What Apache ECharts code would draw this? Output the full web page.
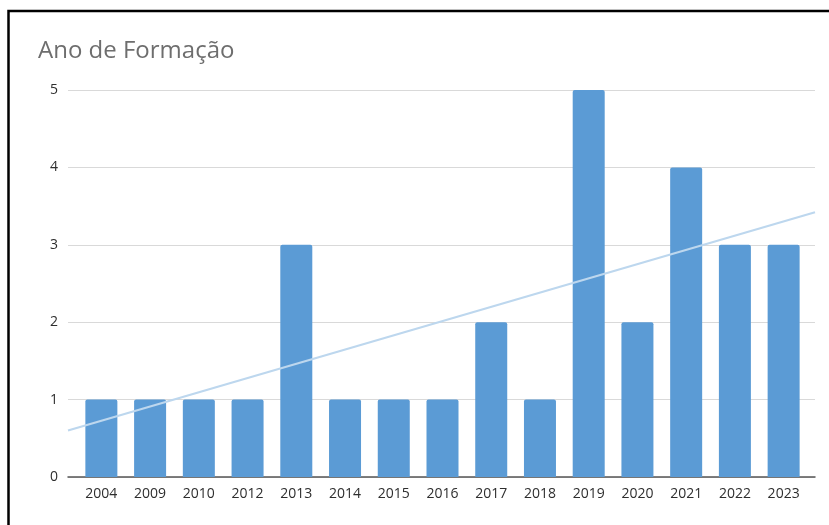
<!DOCTYPE html>
<html><head><meta charset="utf-8">
<script src="https://cdn.jsdelivr.net/npm/echarts@6/dist/echarts.min.js"></script>
<style>html,body{margin:0;padding:0;background:#fff}#c{width:829px;height:525px}</style>
</head><body><div id="c"></div>
<script>
const categories = ['2004','2009','2010','2012','2013','2014','2015','2016','2017','2018','2019','2020','2021','2022','2023'];
const counts = [1,1,1,1,3,1,1,1,2,1,5,2,4,3,3];
const yTicks = [0,1,2,3,4,5];
// trendline values read at the left and right edges of the plot
const trendEnds = [0.6, 3.42];

const chart = echarts.init(document.getElementById('c'));
const font = 'Open Sans, Noto Sans, sans-serif';
chart.setOption({
  animation: false,
  title: {text: 'Ano de Formação', left: 33, top: 34,
    textStyle: {fontFamily: font, fontSize: 24, fontWeight: 'normal', color: '#6e6e6e'}},
  graphic: [{type: 'rect', shape: {x: 8.5, y: 11, width: 900, height: 700},
    style: {fill: 'none', stroke: '#000', lineWidth: 2.5}, silent: true}],
  grid: [
    {left: 77, right: 21, top: 90, bottom: 48},
    {left: 68, right: 14, top: 90, bottom: 48}
  ],
  xAxis: [
    {type: 'category', gridIndex: 0, data: categories,
      axisLine: {show: false}, axisTick: {show: false},
      axisLabel: {fontFamily: font, fontSize: 14, color: '#2e2e2e', margin: 10}},
    {type: 'value', gridIndex: 1, min: 0, max: 1, show: true,
      axisLine: {show: true, onZero: false, lineStyle: {color: '#555', width: 1.5}},
      axisTick: {show: false}, axisLabel: {show: false}, splitLine: {show: false}}
  ],
  yAxis: [
    {type: 'value', gridIndex: 0, min: 0, max: 5, interval: 1, show: false},
    {type: 'value', gridIndex: 1, min: 0, max: 5, interval: 1,
      axisLine: {show: false}, axisTick: {show: false},
      axisLabel: {fontFamily: font, fontSize: 14, color: '#2e2e2e', margin: 10,
        formatter: v => yTicks.includes(v) ? String(v) : ''},
      splitLine: {lineStyle: {color: '#d9d9d9', width: 1.2}}}
  ],
  series: [
    {type: 'bar', xAxisIndex: 0, yAxisIndex: 0, data: counts, barWidth: 32,
      itemStyle: {color: '#5b9bd5', borderRadius: [2,2,0,0]}, z: 2},
    {type: 'line', xAxisIndex: 1, yAxisIndex: 1, data: [[0, trendEnds[0]], [1, trendEnds[1]]],
      symbol: 'none', lineStyle: {color: '#bdd7ee', width: 2.2}, z: 3}
  ]
});
</script></body></html>
